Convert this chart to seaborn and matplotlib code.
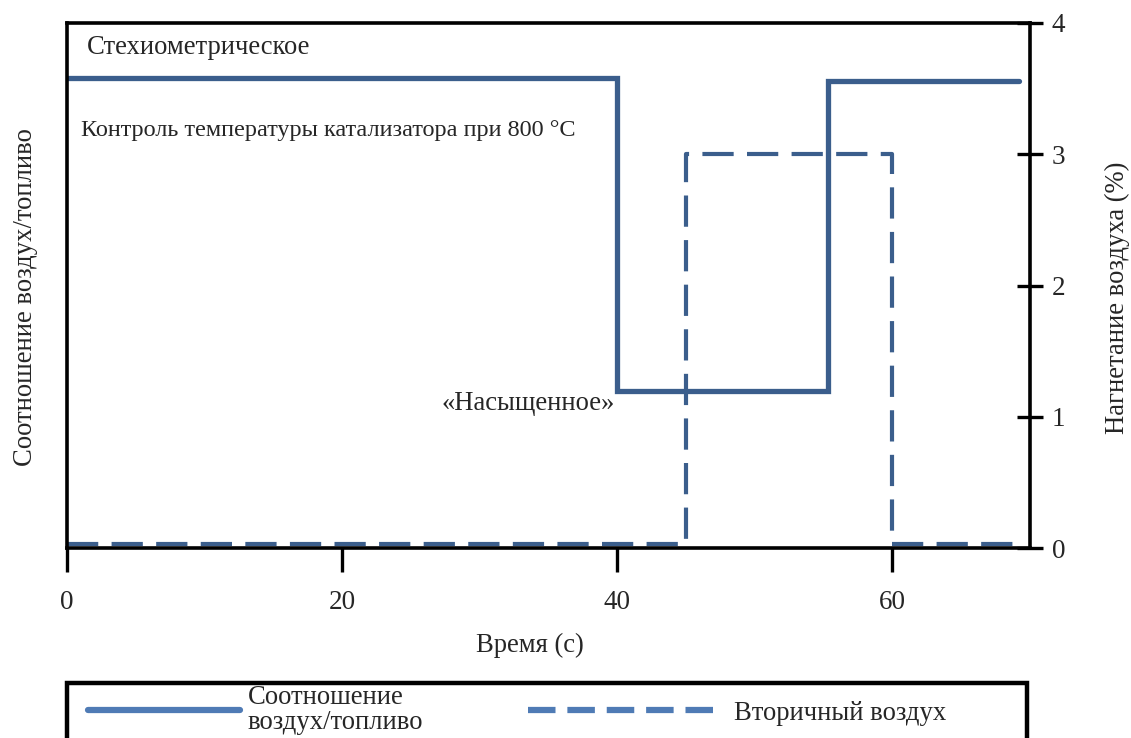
import matplotlib
matplotlib.use("Agg")
import matplotlib.pyplot as plt
from matplotlib.lines import Line2D
from matplotlib.patches import Rectangle
import seaborn as sns
import pandas as pd

# ---- data ----
afr_time = [0, 40, 40, 55.3, 55.3, 69.2]
afr_value = [3.58, 3.58, 1.2, 1.2, 3.555, 3.555]
air_time = [0, 45, 45, 60, 60, 69.2]
air_value = [0.03, 0.03, 3.0, 3.0, 0.03, 0.03]
x_ticks = [0, 20, 40, 60]
y_ticks = [0, 1, 2, 3, 4]
series_labels = ["Соотношение\nвоздух/топливо", "Вторичный воздух"]

sns.set_style("white")
plt.rcParams['font.family'] = ['Liberation Serif', 'DejaVu Serif']
FS = 19.2
FS_TICK = 19.5
FS_NOTE = 17.5
EM = FS * 100 / 72.0

line_col = "#3B5E8C"
leg_col = "#4F7BB5"

W, H = 1131, 738
AX_L, AX_R, AX_T, AX_B = 67, 1030, 23, 548
AW, AH = AX_R - AX_L, AX_B - AX_T
fig = plt.figure(figsize=(W / 100, H / 100), dpi=100)
ax = fig.add_axes([AX_L / W, 1 - AX_B / H, AW / W, AH / H])

df_afr = pd.DataFrame({"t": afr_time, "v": afr_value})
df_air = pd.DataFrame({"t": air_time, "v": air_value})
sns.lineplot(data=df_afr, x="t", y="v", ax=ax, sort=False, estimator=None,
             color=line_col, linewidth=3.8, solid_joinstyle="miter")
sns.lineplot(data=df_air, x="t", y="v", ax=ax, sort=False, estimator=None,
             color=line_col, linewidth=3.0)
ax.lines[1].set_dashes([7.5, 3.2])

ax.set_xlim(0, 70)
ax.set_ylim(0, 4)
ax.set_xticks(x_ticks)
ax.set_xticklabels([str(v) for v in x_ticks], fontsize=FS_TICK)
ax.set_yticks([])
ax.tick_params(axis="x", bottom=True, direction="out", length=17, width=2.4,
               pad=13, color="black")
ax.set_xlabel("Время (с)", fontsize=FS)
ax.xaxis.set_label_coords((530 - AX_L) / AW, -(633 - AX_B) / AH)
ax.set_ylabel("Соотношение воздух/топливо", fontsize=FS)
ax.yaxis.set_label_coords(-(AX_L - 38) / AW, (AX_B - 297) / AH)

for s in ax.spines.values():
    s.set_visible(True)
    s.set_color("black")
    s.set_linewidth(2.6)

ax2 = ax.twinx()
ax2.set_ylim(0, 4)
ax2.set_yticks(y_ticks)
ax2.set_yticklabels([str(v) for v in y_ticks], fontsize=FS_TICK)
ax2.tick_params(axis="y", right=True, direction="inout", length=19, width=2.4,
                pad=6, color="black")
ax2.set_ylabel("Нагнетание воздуха (%)", fontsize=FS)
ax2.yaxis.set_label_coords(1 + (1105 - AX_R) / AW, (AX_B - 298) / AH)
for s in ax2.spines.values():
    s.set_visible(False)

ax.text(0.021, 0.953, "Стехиометрическое", transform=ax.transAxes, fontsize=FS,
        ha="left", va="center")
ax.text(0.015, 0.795, "Контроль температуры катализатора при 800 °C",
        transform=ax.transAxes, fontsize=FS_NOTE, ha="left", va="center")
ax.text(0.569, 0.275, "«Насыщенное»", transform=ax.transAxes, fontsize=FS,
        ha="right", va="center")

# legend box (cut off by figure bottom, as in the reference)
fig.patches.append(Rectangle((67 / W, -0.1), (1027 - 67) / W, 0.1 + 1 - 683 / H,
                             transform=fig.transFigure, fill=False,
                             edgecolor="black", linewidth=3.2, clip_on=False))

h1 = Line2D([], [], color=leg_col, linewidth=4.5)
h2 = Line2D([], [], color=leg_col, linewidth=4.5, dashes=[4.4, 1.9])
leg1 = fig.legend([h1], [series_labels[0]], loc="center left",
                  bbox_to_anchor=(88 / W, 1 - 710 / H), frameon=False,
                  fontsize=FS, handlelength=152 / EM, handletextpad=8 / EM,
                  borderpad=0, borderaxespad=0)
for t in leg1.get_texts():
    t.set_linespacing(1.02)
leg2 = fig.legend([h2], [series_labels[1]], loc="center left",
                  bbox_to_anchor=(528 / W, 1 - 713 / H), frameon=False,
                  fontsize=FS, handlelength=188 / EM, handletextpad=18 / EM,
                  borderpad=0, borderaxespad=0)

fig.savefig("out.png", dpi=100)
